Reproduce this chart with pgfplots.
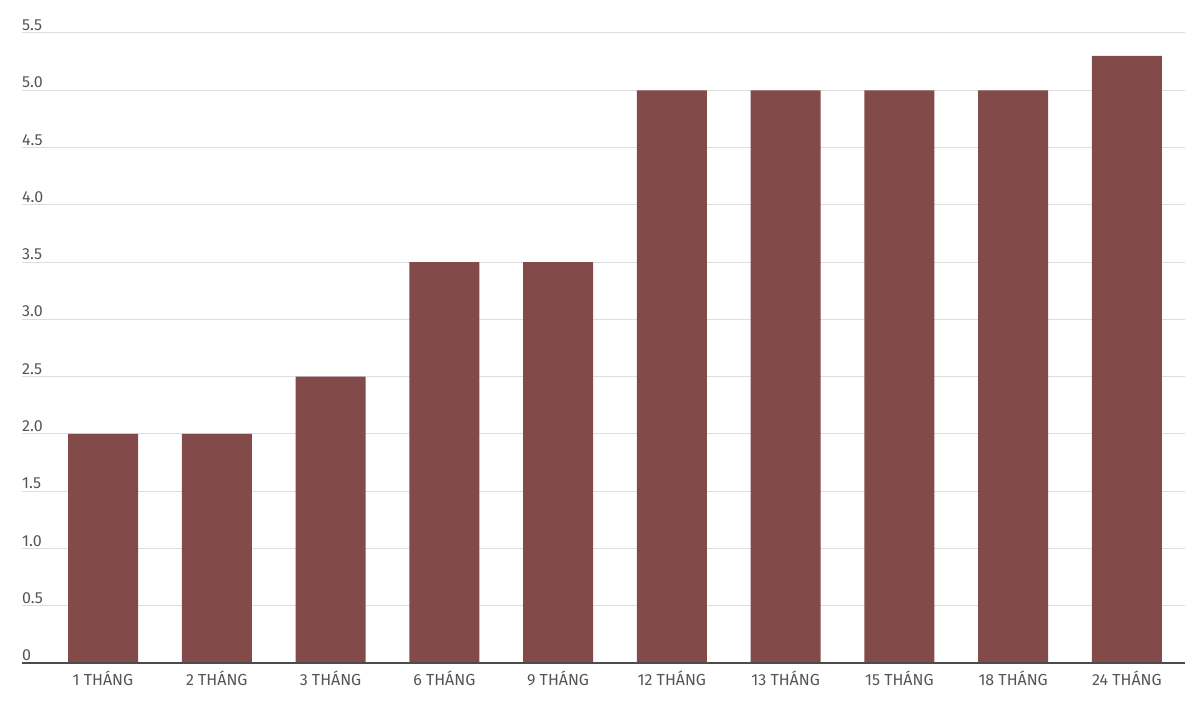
\documentclass[border=0pt]{standalone}
\usepackage{pgfplots}
\pgfplotsset{compat=1.18}
\usepackage{fontspec}
\setmainfont{Fira Sans}
\definecolor{barc}{HTML}{834A4A}
\definecolor{txt}{HTML}{555555}
\definecolor{gridc}{HTML}{DDDDDD}
\begin{document}
\begin{tikzpicture}[x=1pt,y=1pt]
\path[use as bounding box] (-22,-49) rectangle (1170,663);
\begin{axis}[
  at={(0,0)}, anchor=south west,
  scale only axis,
  width=1163pt, height=630pt,
  xmin=-0.712, xmax=9.51,
  ymin=0, ymax=5.5,
  ytick={0,0.5,...,5.5},
  yticklabels={0,0.5,1.0,1.5,2.0,2.5,3.0,3.5,4.0,4.5,5.0,5.5},
  xtick=data,
  xticklabels={1 THÁNG,2 THÁNG,3 THÁNG,6 THÁNG,9 THÁNG,12 THÁNG,13 THÁNG,15 THÁNG,18 THÁNG,24 THÁNG},
  axis line style={draw=none},
  tick style={draw=none},
  ymajorgrids, grid style={gridc, line width=1pt},
  yticklabel style={anchor=south west, xshift=-2pt, yshift=0pt, inner sep=2pt, font=\fontsize{16}{18}\selectfont, text=txt},
  xticklabel style={font=\fontsize{16}{18}\selectfont, text=txt, yshift=-4pt},
  /pgf/number format/assume math mode=true,
  clip=false,
]
\addplot[ybar, bar width=70pt, fill=barc, draw=none] coordinates {
(0,2.0) (1,2.0) (2,2.5) (3,3.5) (4,3.5) (5,5.0) (6,5.0) (7,5.0) (8,5.0) (9,5.3)
};
\draw[txt!90!black, line width=2pt] (axis cs:-0.712,0) -- (axis cs:9.51,0);
\end{axis}
\end{tikzpicture}
\end{document}
